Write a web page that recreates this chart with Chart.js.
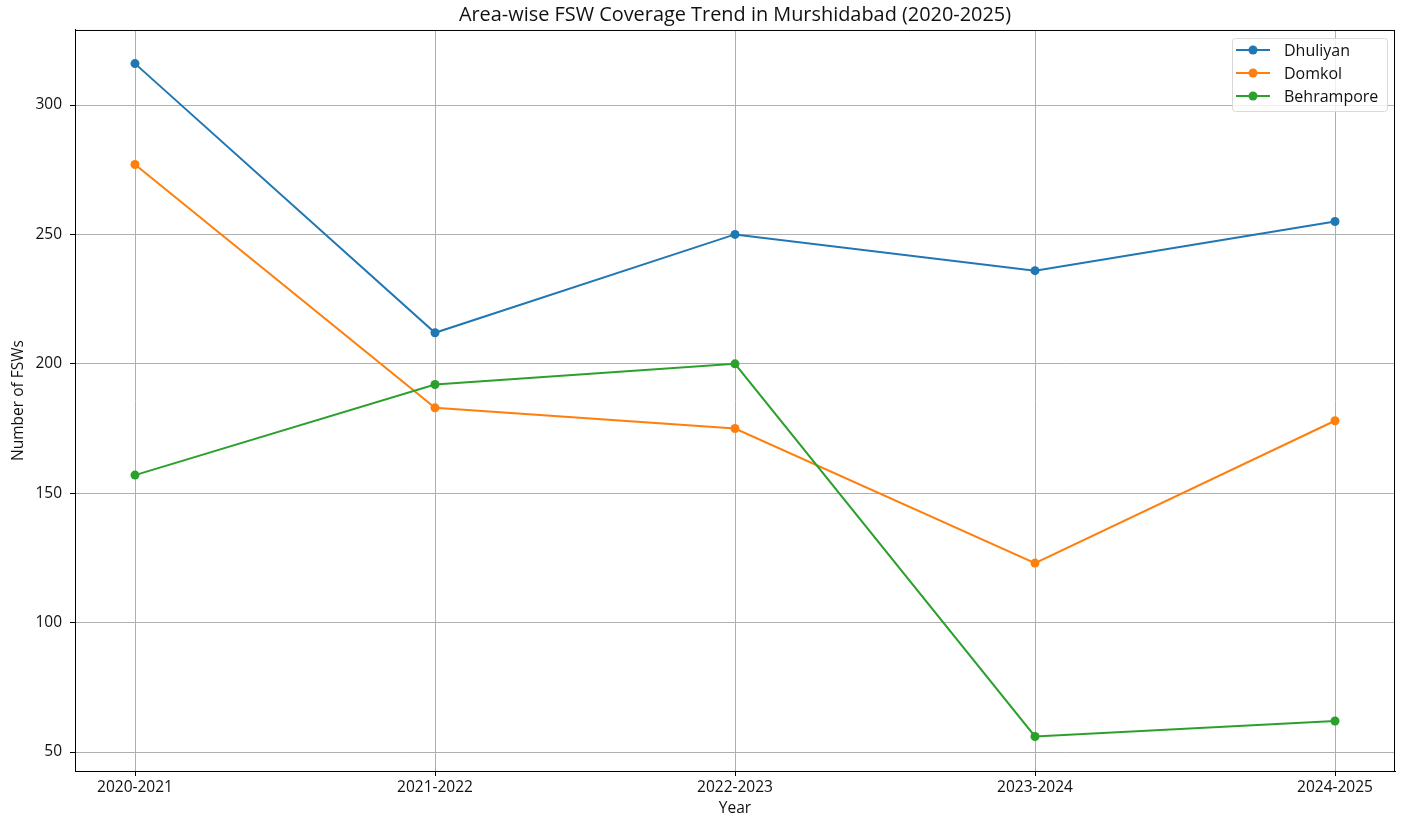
<!DOCTYPE html>
<html>
<head>
<meta charset="utf-8">
<script src="https://cdn.jsdelivr.net/npm/chart.js@4.4.1/dist/chart.umd.min.js"></script>
<style>
  html, body { margin: 0; padding: 0; background: #fff; }
  #wrap { width: 1401px; height: 818px; }
</style>
</head>
<body>
<div id="wrap"><canvas id="fswChart" width="1401" height="818"></canvas></div>
<script>
const years = ["2020-2021", "2021-2022", "2022-2023", "2023-2024", "2024-2025"];
const areaNames = ["Dhuliyan", "Domkol", "Behrampore"];
const dhuliyan = [316, 212, 250, 236, 255];
const domkol = [277, 183, 175, 123, 178];
const behrampore = [157, 192, 200, 56, 62];
const yTicks = [50, 100, 150, 200, 250, 300];
const colors = ["#1f77b4", "#ff7f0e", "#2ca02c"];

const FONT = "'Open Sans', sans-serif";
const ctx = document.getElementById("fswChart").getContext("2d");

function toPoints(values) {
  return values.map((v, i) => ({ x: i, y: v }));
}

// matplotlib style frame around the axes
const framePlugin = {
  id: "frame",
  afterDatasetsDraw(chart) {
    const { ctx, chartArea: a } = chart;
    ctx.save();
    ctx.strokeStyle = "#000";
    ctx.lineWidth = 1;
    ctx.strokeRect(a.left + 0.5, a.top + 0.5, a.right - a.left - 1, a.bottom - a.top);
    ctx.restore();
  },
};

// legend box in the upper right corner of the plot
const innerLegend = {
  id: "innerLegend",
  afterDraw(chart) {
    const { ctx, chartArea: a } = chart;
    const sets = chart.data.datasets;
    const boxW = 155, rowH = 23;
    const boxH = sets.length * rowH + 4;
    const x0 = a.right - 8 - boxW;
    const y0 = a.top + 8;
    ctx.save();
    ctx.fillStyle = "rgba(255,255,255,0.8)";
    ctx.strokeStyle = "#d9d9d9";
    ctx.lineWidth = 1;
    ctx.beginPath();
    ctx.roundRect(x0 + 0.5, y0 + 0.5, boxW, boxH, 3);
    ctx.fill();
    ctx.stroke();
    ctx.font = "16px " + FONT;
    ctx.textBaseline = "middle";
    sets.forEach((ds, i) => {
      const cy = y0 + 12 + i * rowH;
      ctx.strokeStyle = ds.borderColor;
      ctx.lineWidth = 2;
      ctx.beginPath();
      ctx.moveTo(x0 + 4, cy);
      ctx.lineTo(x0 + 38, cy);
      ctx.stroke();
      ctx.fillStyle = ds.borderColor;
      ctx.beginPath();
      ctx.arc(x0 + 21, cy, 4.5, 0, Math.PI * 2);
      ctx.fill();
      ctx.fillStyle = "#111";
      ctx.fillText(ds.label, x0 + 52, cy + 1);
    });
    ctx.restore();
  },
};

const seriesValues = [dhuliyan, domkol, behrampore];

new Chart(ctx, {
  type: "line",
  data: {
    datasets: areaNames.map((name, i) => ({
      label: name,
      data: toPoints(seriesValues[i]),
      borderColor: colors[i],
      backgroundColor: colors[i],
      borderWidth: 2,
      pointRadius: 4.5,
      pointBorderWidth: 0,
      pointHoverRadius: 4.5,
      tension: 0,
      order: areaNames.length - i,
    })),
  },
  options: {
    responsive: false,
    animation: false,
    events: [],
    layout: { padding: { left: 0, right: 6, top: 0, bottom: 0 } },
    plugins: {
      legend: { display: false },
      tooltip: { enabled: false },
      title: {
        display: true,
        fullSize: false,
        text: "Area-wise FSW Coverage Trend in Murshidabad (2020-2025)",
        color: "#111",
        font: { family: FONT, size: 19.9, weight: "normal", lineHeight: 1.2 },
        padding: { top: 3, bottom: 3.1 },
      },
    },
    scales: {
      x: {
        type: "linear",
        min: -0.2,
        max: 4.2,
        afterBuildTicks(scale) {
          scale.ticks = years.map((_, i) => ({ value: i }));
        },
        afterFit(scale) {
          scale.height = 47;
        },
        ticks: {
          color: "#111",
          font: { family: FONT, size: 15.5 },
          padding: 2,
          maxRotation: 0,
          autoSkip: false,
          callback: (v) => years[v],
        },
        grid: { color: "#b0b0b0", lineWidth: 1, tickColor: "#000", tickLength: 5 },
        border: { display: true, color: "#000", width: 1 },
        title: {
          display: true,
          text: "Year",
          color: "#111",
          font: { family: FONT, size: 15.5 },
          padding: { top: 0, bottom: 0 },
        },
      },
      y: {
        type: "linear",
        min: 42.66,
        max: 329,
        afterBuildTicks(scale) {
          scale.ticks = yTicks.map((v) => ({ value: v }));
        },
        afterFit(scale) {
          scale.width = 75;
        },
        ticks: {
          color: "#111",
          font: { family: FONT, size: 15.5 },
          padding: 8,
        },
        grid: { color: "#b0b0b0", lineWidth: 1, tickColor: "#000", tickLength: 5 },
        border: { display: true, color: "#000", width: 1 },
        title: {
          display: true,
          text: "Number of FSWs",
          color: "#111",
          font: { family: FONT, size: 15.5 },
          padding: { top: 9, bottom: 0 },
        },
      },
    },
  },
  plugins: [framePlugin, innerLegend],
});
</script>
</body>
</html>
